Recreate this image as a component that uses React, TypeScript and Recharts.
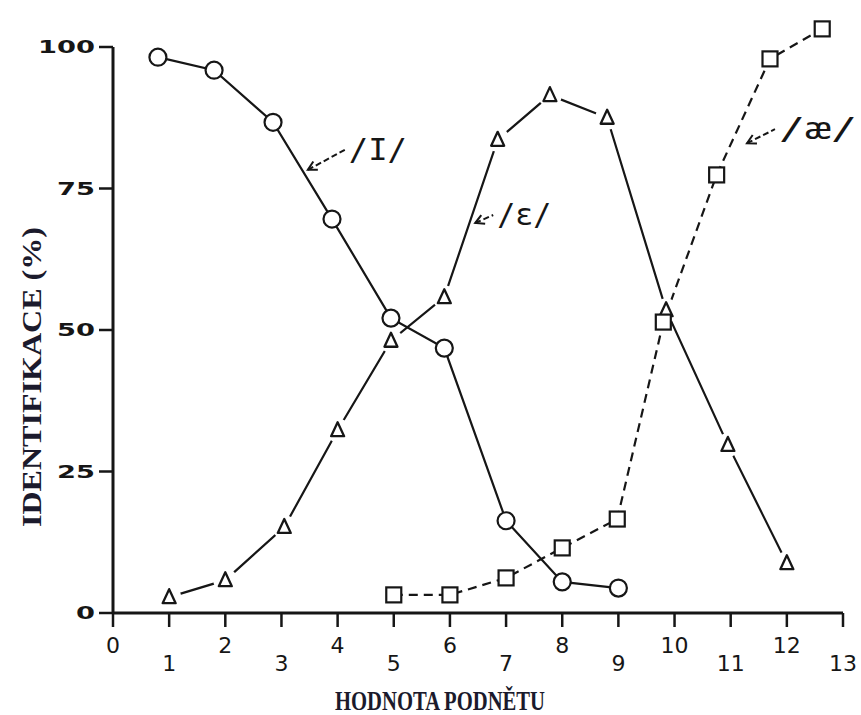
import { LineChart, Line, XAxis, YAxis, ReferenceLine, ReferenceDot } from 'recharts';

// /I/ (circles)
const iX = [0.8, 1.8, 2.85, 3.9, 4.95, 5.9, 7.0, 8.0, 9.0];
const iY = [98.2, 95.9, 86.7, 69.6, 52.1, 46.8, 16.3, 5.5, 4.4];
// /ɛ/ (triangles)
const eX = [1.0, 2.0, 3.05, 4.0, 4.95, 5.9, 6.85, 7.78, 8.8, 9.85, 10.95, 12.0];
const eY = [2.8, 5.8, 15.2, 32.3, 48.1, 55.8, 83.6, 91.5, 87.5, 53.5, 29.7, 8.8];
// /æ/ (squares)
const aeX = [5.0, 6.0, 7.0, 8.0, 8.98, 9.8, 10.75, 11.7, 12.63];
const aeY = [3.2, 3.2, 6.2, 11.5, 16.6, 51.4, 77.4, 97.9, 103.2];

const xTicks = [0, 1, 2, 3, 4, 5, 6, 7, 8, 9, 10, 11, 12, 13];
const yTicks = [0, 25, 50, 75, 100];

const toRows = (xs: number[], ys: number[]) => xs.map((x, i) => ({ x, y: ys[i] }));

const INK = '#161616';

const CircleDot = (p: any) => (
  <circle key={`c-${p.index}`} cx={p.cx} cy={p.cy} r={8.5} fill="#fff" stroke={INK} strokeWidth={2.2} />
);

const TriangleDot = (p: any) => (
  <g key={`t-${p.index}`}>
    <circle cx={p.cx} cy={p.cy} r={12} fill="#fff" />
    <path
      d={`M${p.cx},${p.cy - 8} L${p.cx + 6.5},${p.cy + 6} L${p.cx - 6.5},${p.cy + 6} Z`}
      fill="#fff"
      stroke={INK}
      strokeWidth={2.3}
      strokeLinejoin="round"
    />
  </g>
);

const SquareDot = (p: any) => (
  <rect key={`s-${p.index}`} x={p.cx - 7.5} y={p.cy - 7.5} width={15} height={15} fill="#fff" stroke={INK} strokeWidth={2.2} />
);

const XTick = (p: any) => {
  const v = p.payload.value;
  const dy = v % 2 === 1 ? 42 : 24;
  return (
    <text x={p.x} y={p.y + dy} textAnchor="middle" fontFamily="DejaVu Sans" fontSize={22} fill={INK}>
      {v}
    </text>
  );
};

const YTick = (p: any) => {
  const s = String(p.payload.value);
  return (
    <text
      x={p.x - 2}
      y={p.y + 6}
      textAnchor="end"
      fontFamily="DejaVu Sans"
      fontWeight="bold"
      fontSize={17}
      textLength={19 * s.length}
      lengthAdjust="spacingAndGlyphs"
      fill={INK}
    >
      {s}
    </text>
  );
};

// arrow annotation: head at the dot, tail offset in pixels
const arrowLabel = (text: string, tx: number, ty: number, textW: number) => (p: any) => {
  const hx = p.cx;
  const hy = p.cy;
  const ex = hx + tx;
  const ey = hy + ty;
  const len = Math.hypot(tx, ty);
  const ux = tx / len;
  const uy = ty / len;
  const a = 0.5;
  const L = 10;
  const w1x = hx + L * (ux * Math.cos(a) - uy * Math.sin(a));
  const w1y = hy + L * (ux * Math.sin(a) + uy * Math.cos(a));
  const w2x = hx + L * (ux * Math.cos(-a) - uy * Math.sin(-a));
  const w2y = hy + L * (ux * Math.sin(-a) + uy * Math.cos(-a));
  return (
    <g>
      <line x1={hx} y1={hy} x2={ex} y2={ey} stroke={INK} strokeWidth={2} strokeDasharray="6 3" />
      <path d={`M${w1x},${w1y} L${hx},${hy} L${w2x},${w2y}`} fill="none" stroke={INK} strokeWidth={2} />
      <text
        x={ex + 4}
        y={ey + 10}
        fontFamily="DejaVu Sans Mono"
        fontSize={30}
        textLength={textW}
        lengthAdjust="spacingAndGlyphs"
        fill={INK}
      >
        {text}
      </text>
    </g>
  );
};

export default function App() {
  return (
    <div style={{ position: 'absolute', left: 0, top: 0, background: '#fff' }}>
      <LineChart width={861} height={715} margin={{ top: 18.7, right: 18, bottom: 0, left: 0 }}>
        <XAxis
          type="number"
          dataKey="x"
          domain={[0, 13]}
          ticks={xTicks}
          interval={0}
          height={102}
          tickSize={14}
          stroke={INK}
          axisLine={{ stroke: INK, strokeWidth: 3 }}
          tickLine={{ stroke: INK, strokeWidth: 2.5 }}
          tick={XTick}
          label={{
            content: () => (
              <text
                x={440}
                y={710}
                textAnchor="middle"
                fontFamily="Liberation Serif"
                fontWeight="bold"
                fontSize={27}
                textLength={210}
                lengthAdjust="spacingAndGlyphs"
                fill="#1b1a2c"
              >
                HODNOTA PODNĚTU
              </text>
            ),
          }}
        />
        <YAxis
          type="number"
          dataKey="y"
          domain={[0, 105]}
          ticks={yTicks}
          interval={0}
          width={113}
          tickSize={14}
          axisLine={false}
          tickLine={{ stroke: INK, strokeWidth: 2.5 }}
          tick={YTick}
          label={{
            content: () => (
              <text
                x={0}
                y={0}
                transform="translate(41,377) rotate(-90)"
                textAnchor="middle"
                fontFamily="Liberation Serif"
                fontWeight="bold"
                fontSize={27}
                textLength={300}
                lengthAdjust="spacingAndGlyphs"
                fill="#1b1a2c"
              >
                IDENTIFIKACE (%)
              </text>
            ),
          }}
        />
        <ReferenceLine
          segment={[
            { x: 0, y: 0 },
            { x: 0, y: 100 },
          ]}
          stroke={INK}
          strokeWidth={3}
        />
        <Line
          data={toRows(eX, eY)}
          dataKey="y"
          stroke={INK}
          strokeWidth={2.2}
          dot={TriangleDot}
          activeDot={false}
          isAnimationActive={false}
        />
        <Line
          data={toRows(iX, iY)}
          dataKey="y"
          stroke={INK}
          strokeWidth={2.2}
          dot={CircleDot}
          activeDot={false}
          isAnimationActive={false}
        />
        <Line
          data={toRows(aeX, aeY)}
          dataKey="y"
          stroke={INK}
          strokeWidth={2.2}
          strokeDasharray="9 6"
          dot={SquareDot}
          activeDot={false}
          isAnimationActive={false}
        />
        <ReferenceDot x={3.47} y={78.3} r={0} shape={arrowLabel('/I/', 37, -20, 58)} />
        <ReferenceDot x={6.45} y={68.9} r={0} shape={arrowLabel('/ɛ/', 18, -8, 54)} />
        <ReferenceDot x={11.29} y={83.0} r={0} shape={arrowLabel('/æ/', 28, -14, 78)} />
      </LineChart>
    </div>
  );
}
